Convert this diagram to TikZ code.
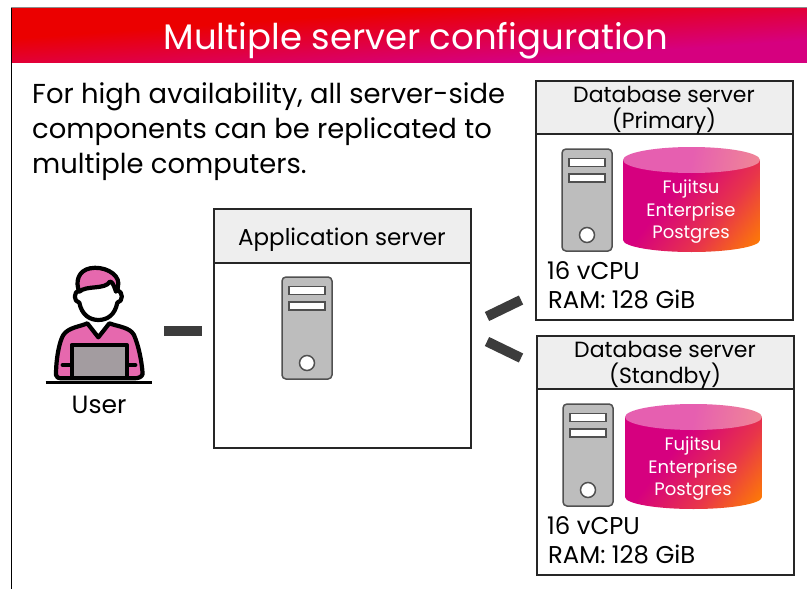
\documentclass[tikz,border=0pt]{standalone}
\usepackage{fontspec}
\setmainfont{Poppins}
\definecolor{fjred}{HTML}{EB0000}
\definecolor{fjmag}{HTML}{D6007F}
\definecolor{fjmid}{HTML}{E8354A}
\definecolor{fjora}{HTML}{FF8000}
\definecolor{barc}{HTML}{3C3C3C}
\definecolor{headc}{HTML}{EEEEEE}
\definecolor{srvc}{HTML}{BDBDBD}
\definecolor{srvl}{HTML}{505050}
\definecolor{pinkc}{HTML}{E668AE}
\definecolor{lapc}{HTML}{A39CA0}
\definecolor{topm}{HTML}{E65FB0}
\definecolor{topo}{HTML}{F29090}
\pgfdeclarehorizontalshading{dbbody}{100bp}{color(0bp)=(fjmag);color(42bp)=(fjmag);color(64bp)=(fjmid);color(84bp)=(fjora);color(100bp)=(fjora)}
\pgfdeclarehorizontalshading{dbtop}{100bp}{color(0bp)=(topm);color(50bp)=(topm);color(85bp)=(topo);color(100bp)=(topo)}
\pgfdeclarehorizontalshading{titleg}{100bp}{color(0bp)=(fjred);color(38bp)=(fjred);color(66bp)=(fjmag);color(100bp)=(fjmag)}
\tikzset{
  box/.style={draw=black!85,line width=1.1pt,fill=white,anchor=north west,inner sep=0pt,outer sep=0pt},
  headbox/.style={box,fill=headc},
  headtxt/.style={font=\fontsize{22}{26}\selectfont,align=center,text=black,inner sep=0pt},
  lbl/.style={font=\fontsize{24.3}{28}\selectfont,anchor=base west,inner sep=0pt,text=black},
  dbl/.style={font=\fontsize{18}{22.5}\selectfont,text=white,align=center,inner sep=0pt},
  bar/.style={draw=barc,line width=10pt},
  srv/.pic={
    \draw[srvl,fill=srvc,line width=1.5pt,rounded corners=4pt] (0,0) rectangle (50,102);
    \draw[srvl,fill=white,line width=1.5pt] (7,9.5) rectangle (43,17.5);
    \draw[srvl,fill=white,line width=1.5pt] (7,25) rectangle (43,33);
    \draw[srvl,fill=white,line width=1.5pt] (25,86) circle (7.5);
  },
  dbs/.pic={
    \begin{scope}
      \clip (0,13) -- (0,93) arc[start angle=180,end angle=0,x radius=68.5,y radius=12] -- (137,13) -- cycle;
      \path[shading=dbbody,shading angle=-38] (0,0) rectangle (137,105);
    \end{scope}
    \path[shading=dbtop,shading angle=-10] (68.5,13) ellipse[x radius=68.5,y radius=13];
  },
}
\begin{document}
\begin{tikzpicture}[x=1pt,y=-1pt]
\useasboundingbox (0,0) rectangle (807,589);
\fill[white] (0,0) rectangle (807,589);
% frame
\draw[black!45,line width=1pt] (11,7.5) -- (807,7.5);
\draw[black,line width=1.1pt] (11.5,8) -- (11.5,589);
% title
\path[shading=titleg,shading angle=-86] (12,8) rectangle (807,62);
\node[anchor=base,inner sep=0pt,text=white,font=\fontsize{35.5}{40}\selectfont] (title) at (416,49) {Multiple server configuration};
% intro
\node[lbl,font=\fontsize{27.4}{35}\selectfont,align=left,anchor=north west] (intro) at (32,82) {For high availability, all server-side\\components can be replicated to\\multiple computers.};
% boxes
\node[box,minimum width=257pt,minimum height=239pt] (app) at (214,209) {};
\node[headbox,minimum width=257pt,minimum height=54pt] (apph) at (214,209) {};
\node[headtxt,font=\fontsize{23}{26}\selectfont] (appt) at (342,240) {Application server};
\node[box,minimum width=257pt,minimum height=239pt] (pri) at (536,81) {};
\node[headbox,minimum width=257pt,minimum height=53pt] (prih) at (536,81) {};
\node[headtxt] (prit) at (664,110) {Database server\\(Primary)};
\node[box,minimum width=257pt,minimum height=239pt] (sta) at (537,336) {};
\node[headbox,minimum width=257pt,minimum height=53pt] (stah) at (537,336) {};
\node[headtxt] (stat) at (665,365) {Database server\\(Standby)};
% servers
\pic at (282,277) {srv};
\pic at (562,149) {srv};
\pic at (563,404) {srv};
% databases
\pic at (623,147) {dbs};
\pic at (625,404) {dbs};
\node[dbl] (db1) at (691,212) {Fujitsu\\Enterprise\\Postgres};
\node[dbl] (db2) at (693,469) {Fujitsu\\Enterprise\\Postgres};
% spec labels
\node[lbl] (a1) at (547,279) {16 vCPU};
\node[lbl] (a2) at (548,308) {RAM: 128 GiB};
\node[lbl] (b1) at (547,534) {16 vCPU};
\node[lbl] (b2) at (548,563) {RAM: 128 GiB};
% connectors
\coordinate (c1a) at (164,331); \coordinate (c1b) at (202,331);
\coordinate (c2a) at (487,316.5); \coordinate (c2b) at (521,300);
\coordinate (c3a) at (487,341.5); \coordinate (c3b) at (521,358);
\draw[bar] (c1a) -- (c1b);
\draw[bar] (c2a) -- (c2b);
\draw[bar] (c3a) -- (c3b);
% user
\begin{scope}[shift={(30,250)},x=.3333pt,y=-.3333pt,line width=4.2pt,line join=round,line cap=round]
  \draw[fill=pinkc] (78,375) .. controls (78,320) and (90,270) .. (100,255) .. controls (115,232) and (150,230) .. (172,220) -- (205,262) -- (238,220) .. controls (265,230) and (300,232) .. (312,255) .. controls (325,285) and (335,330) .. (338,372) .. controls (335,382) and (325,385) .. (310,385) -- (100,385) .. controls (85,385) and (78,383) .. (78,375) -- cycle;
  \draw (98,345) -- (125,345) (290,345) -- (316,345);
  \draw[fill=white] (148,120) .. controls (130,125) and (130,155) .. (148,158) .. controls (155,195) and (180,210) .. (205,210) .. controls (232,210) and (255,195) .. (262,158) .. controls (280,155) and (280,125) .. (262,120) -- (262,90) -- (150,90) -- cycle;
  \draw[fill=pinkc] (148,125) .. controls (135,95) and (145,62) .. (180,55) .. controls (220,47) and (265,70) .. (265,100) .. controls (265,110) and (262,122) .. (258,125) .. controls (250,100) and (245,95) .. (240,95) .. controls (225,120) and (170,105) .. (148,125) -- cycle;
  \draw[fill=lapc] (125,285) rectangle (290,385);
  \draw[line width=3.2pt,line cap=butt] (47,398) -- (365,398);
\end{scope}
\node[font=\fontsize{25}{26}\selectfont,inner sep=0pt,anchor=base] (user) at (99,413) {User};
\end{tikzpicture}
\end{document}
